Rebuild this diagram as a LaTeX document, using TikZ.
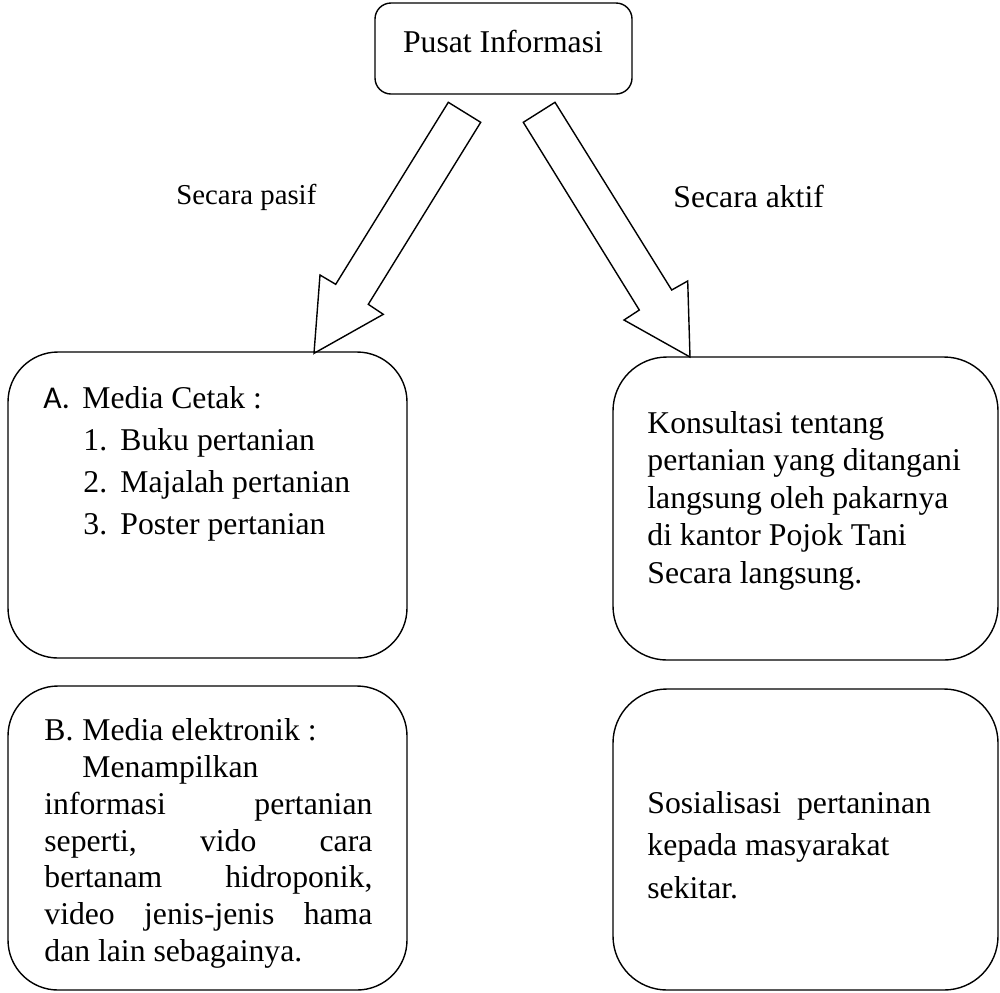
\documentclass[tikz,border=0pt]{standalone}
\usepackage{fontspec}
\setmainfont{Liberation Serif}
\newfontfamily\calib{Carlito}
\begin{document}
\begin{tikzpicture}[x=0.5pt,y=-0.5pt,
  txt/.style={font=\fontsize{15.85pt}{19pt}\selectfont, inner sep=0pt, anchor=base west},
  lbl/.style={inner sep=0pt, anchor=base west},
  boxline/.style={draw=black, line width=0.7pt},
  blockarrow/.style={draw=black, line width=0.7pt, fill=white, line join=miter}]
\useasboundingbox (0,0) rectangle (1000,992);

% top box
\draw[boxline, rounded corners=8pt] (375,3) rectangle (632,94);
\node[txt, anchor=base] (pusat) at (503,52) {Pusat Informasi};

% block arrows
\draw[blockarrow] (448.3,102.3) -- (480.7,122.3) -- (368.3,304.3) -- (383.3,314.3)
  -- (314,353.3) -- (320,275) -- (335.7,284.3) -- cycle;
\draw[blockarrow] (555,102.3) -- (523.3,122.3) -- (639.3,310) -- (624,320)
  -- (690,357) -- (687.7,281) -- (671.7,290) -- cycle;

% arrow labels
\node[lbl, font=\fontsize{14.4pt}{17pt}\selectfont] (pasif) at (176,204) {Secara pasif};
\node[txt] (aktif) at (673,207) {Secara aktif};

% box A
\draw[boxline, rounded corners=25pt] (8,352) rectangle (407,658);
\node[txt] (a0) at (43,408) {\calib A.};
\node[txt] (a1) at (82,408) {Media Cetak :};
\node[txt] (a2n) at (83,450) {1.};
\node[txt] (a2) at (120,450) {Buku pertanian};
\node[txt] (a3n) at (83,492) {2.};
\node[txt] (a3) at (120,492) {Majalah pertanian};
\node[txt] (a4n) at (83,534) {3.};
\node[txt] (a4) at (120,534) {Poster pertanian};

% right box 1
\draw[boxline, rounded corners=27pt] (613,357) rectangle (998,660);
\node[txt] (k1) at (647,433) {Konsultasi tentang};
\node[txt] (k2) at (647,470.5) {pertanian yang ditangani};
\node[txt] (k3) at (647,508) {langsung oleh pakarnya};
\node[txt] (k4) at (647,545.5) {di kantor Pojok Tani};
\node[txt] (k5) at (647,583) {Secara langsung.};

% box B
\draw[boxline, rounded corners=25pt] (8,686) rectangle (407,990);
\node[txt] (b0) at (44,740) {B.};
\node[txt] (b1) at (82,740) {Media elektronik :};
\node[txt] (b2) at (82,777) {Menampilkan};
\node[txt] (b3) at (44,814) {\hbox to 164pt{informasi\hfill pertanian}};
\node[txt] (b4) at (44,851) {\hbox to 164pt{seperti,\hfill vido\hfill cara}};
\node[txt] (b5) at (44,887) {\hbox to 164pt{bertanam\hfill hidroponik,}};
\node[txt] (b6) at (44,924) {\hbox to 164pt{video\hfill jenis-jenis\hfill hama}};
\node[txt] (b7) at (44,961) {dan lain sebagainya.};

% right box 2
\draw[boxline, rounded corners=27pt] (613,689) rectangle (998,990);
\node[txt] (s1) at (647,813) {Sosialisasi\ \ pertaninan};
\node[txt] (s2) at (647,855) {kepada masyarakat};
\node[txt] (s3) at (647,898) {sekitar.};
\end{tikzpicture}
\end{document}
